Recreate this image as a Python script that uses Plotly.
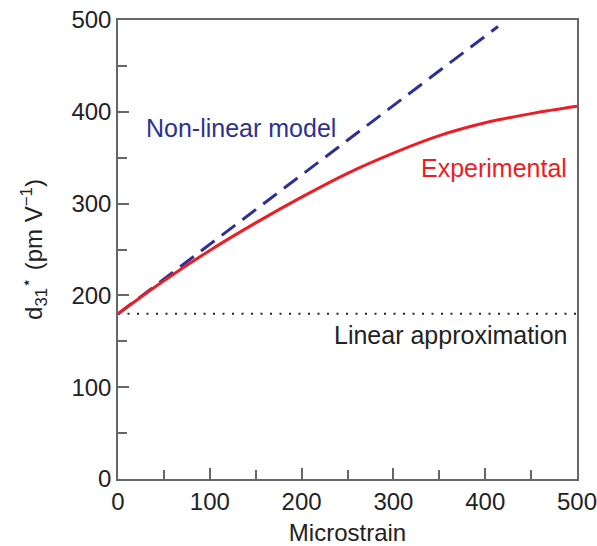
import plotly.graph_objects as go

# Data
exp_x = [0, 50, 100, 150, 200, 250, 300, 350, 400, 450, 500]
exp_y = [180, 216, 249, 279, 307, 333, 355, 374, 388, 398, 406]
model_x = [0, 414]
model_y = [180, 493]
lin_x = [0, 500]
lin_y = [180, 180]

FONT = "Liberation Sans, Arial, sans-serif"
fig = go.Figure()
fig.add_trace(go.Scatter(x=lin_x, y=lin_y, mode="lines",
                         line=dict(color="#222222", width=2.2, dash="2px,7.5px")))
fig.add_trace(go.Scatter(x=model_x, y=model_y, mode="lines",
                         line=dict(color="#2e3192", width=3, dash="17px,9px")))
fig.add_trace(go.Scatter(x=exp_x, y=exp_y, mode="lines", line_shape="spline",
                         line=dict(color="#ee1c24", width=3)))

axis_common = dict(showgrid=False, zeroline=False, showline=True, linecolor="#666666",
                   linewidth=1.5, mirror=True, ticks="inside", ticklen=11, tickwidth=1.5,
                   tickcolor="#666666", tickfont=dict(family=FONT, size=24, color="#222222"),
                   automargin=False, ticklabeloverflow="allow",
                   minor=dict(ticks="inside", ticklen=9, tickwidth=1.5, tickcolor="#666666"))

fig.update_xaxes(range=[0, 500], tickvals=[0, 100, 200, 300, 400, 500], minor_dtick=50,
                 title=dict(text="Microstrain", font=dict(family=FONT, size=24, color="#222222"), standoff=12),
                 **axis_common)
fig.update_yaxes(range=[0, 500], tickvals=[0, 100, 200, 300, 400, 500], minor_dtick=50,
                 title=dict(text="d<sub>31</sub><sup>\u22c6</sup> (pm V<sup>\u22121</sup>)",
                            font=dict(family=FONT, size=24, color="#222222"), standoff=22),
                 **axis_common)

fig.add_annotation(x=134, y=382, text="Non-linear model", showarrow=False,
                   font=dict(family=FONT, size=25, color="#2e3192"))
fig.add_annotation(x=410, y=339, text="Experimental", showarrow=False,
                   font=dict(family=FONT, size=25, color="#ee1c24"))
fig.add_annotation(x=362, y=157, text="Linear approximation", showarrow=False,
                   font=dict(family=FONT, size=25, color="#222222"))

fig.update_layout(width=597, height=546, margin=dict(l=118, r=20, t=20, b=67),
                  plot_bgcolor="white", paper_bgcolor="white", showlegend=False)
fig.write_html("out.html")
